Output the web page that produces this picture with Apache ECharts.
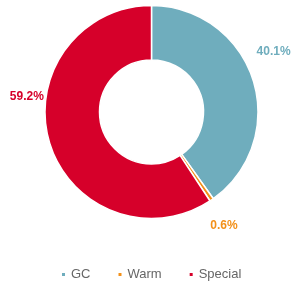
<!DOCTYPE html>
<html>
<head>
<meta charset="utf-8">
<script src="https://cdn.jsdelivr.net/npm/echarts@6/dist/echarts.min.js"></script>
<style>
  html, body { margin: 0; padding: 0; background: #fff; }
  #chart { width: 292px; height: 282px; }
</style>
</head>
<body>
<div id="chart"></div>
<script>
// 数据
const categories = ['GC', 'Warm', 'Special'];
const shares = [40.1, 0.6, 59.2];
const colors = ['#6fadbd', '#f39019', '#d6002a'];

// 标签偏移（相对默认位置）
const labelShift = [[-13, -25], [-15, 19], [11, -48]];

const chartDom = document.getElementById('chart');
const myChart = echarts.init(chartDom);

const option = {
    animation: false,
    color: colors,
    textStyle: { fontFamily: 'Liberation Sans, Arial, sans-serif' },
    legend: {
        top: 263,
        left: 55,
        icon: 'rect',
        itemWidth: 5,
        itemHeight: 5,
        itemGap: 26,
        textStyle: { color: '#666', fontSize: 13 },
        data: categories
    },
    series: [
        {
            type: 'pie',
            center: [151.5, 112],
            radius: [52, 106.5],
            startAngle: 90,
            clockwise: true,
            avoidLabelOverlap: false,
            itemStyle: { borderColor: '#fff', borderWidth: 1.5 },
            label: {
                show: true,
                position: 'outside',
                fontSize: 12,
                fontWeight: 'bold',
                formatter: p => p.value.toFixed(1) + '%'
            },
            labelLine: { show: false, length: 8, length2: 4 },
            labelLayout: p => ({ dx: labelShift[p.dataIndex][0], dy: labelShift[p.dataIndex][1] }),
            data: categories.map((name, i) => ({
                name: name,
                value: shares[i],
                label: { color: colors[i] }
            }))
        }
    ]
};

myChart.setOption(option);
</script>
</body>
</html>
